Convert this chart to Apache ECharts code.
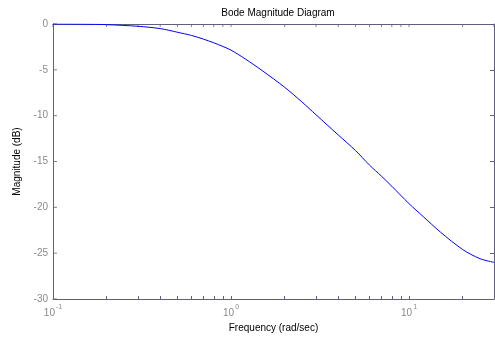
<!DOCTYPE html>
<html>
<head>
<meta charset="utf-8">
<script src="https://cdn.jsdelivr.net/npm/echarts@6/dist/echarts.min.js"></script>
<style>
html,body{margin:0;padding:0;background:#fff;}
#chart{width:495px;height:338px;}
</style>
</head>
<body>
<div id="chart"></div>
<script>
// Frequency (rad/sec) and magnitude (dB)
const frequency = [0.1, 0.15, 0.2, 0.3, 0.4, 0.5, 0.6, 0.7, 0.8, 0.9, 1.0, 1.2, 1.5, 2.0, 2.5, 3.0, 4.0, 5.0, 6.0, 7.0, 8.0, 10, 12, 15, 20, 25, 30];
const magnitude = [0, -0.02, -0.07, -0.25, -0.5, -0.9, -1.25, -1.65, -2.05, -2.45, -2.85, -3.8, -5.1, -6.9, -8.5, -9.9, -12.1, -13.8, -15.4, -16.6, -17.7, -19.6, -21.0, -22.7, -24.6, -25.6, -26.0];
const xMajorTicks = [0.1, 1, 10];
const xMinorTicks = [0.2, 0.3, 0.4, 0.5, 0.6, 0.7, 0.8, 0.9, 2, 3, 4, 5, 6, 7, 8, 9, 20, 30];
const yTicks = [0, -5, -10, -15, -20, -25, -30];
const titleText = 'Bode Magnitude Diagram';
const xName = 'Frequency (rad/sec)';
const yName = 'Magnitude (dB)';

const axisColor = '#60607e';
const labelColor = '#8a8a8a';
const font = 'Liberation Sans, Arial, sans-serif';
const allXTicks = xMajorTicks.concat(xMinorTicks);
const xMin = 0.1, xMax = 30, yMin = -30, yMax = 0;
const W = 495, H = 338;
const gridRect = {left: 53, right: 1, top: 24, bottom: 39};
const gridH = H - gridRect.top - gridRect.bottom;

const chart = echarts.init(document.getElementById('chart'), null, {renderer: 'canvas'});
const option = {
  backgroundColor: '#ffffff',
  animation: false,
  title: {
    text: titleText,
    left: 273, top: 3, textAlign: 'center',
    textStyle: {fontSize: 10, fontWeight: 'normal', color: '#000', fontFamily: font}
  },
  grid: [Object.assign({}, gridRect), Object.assign({}, gridRect), Object.assign({}, gridRect)],
  xAxis: [{
    gridIndex: 0,
    type: 'log', logBase: 10, min: xMin, max: xMax,
    position: 'bottom',
    name: xName, nameLocation: 'middle', nameGap: 24,
    nameTextStyle: {fontSize: 10, color: '#000', fontFamily: font},
    axisLine: {show: true, onZero: false, lineStyle: {color: axisColor, width: 1}},
    axisTick: {show: true, inside: true, length: 3, customValues: allXTicks, lineStyle: {color: axisColor}},
    splitLine: {show: false},
    axisLabel: {
      customValues: xMajorTicks, margin: 5,
      formatter: function (v) {
        const e = Math.round(Math.log10(v));
        return '{b|10}{s|' + e + '}';
      },
      rich: {
        b: {fontSize: 10, color: labelColor, fontFamily: font, verticalAlign: 'bottom', lineHeight: 14},
        s: {fontSize: 7, color: labelColor, fontFamily: font, verticalAlign: 'top', lineHeight: 14, padding: [0, 0, 0, 1]}
      }
    }
  }, {
    // top border line
    gridIndex: 1,
    type: 'log', logBase: 10, min: xMin, max: xMax,
    position: 'bottom', offset: -gridH,
    axisLine: {show: true, onZero: false, lineStyle: {color: axisColor, width: 1}},
    axisTick: {show: false},
    axisLabel: {show: false},
    splitLine: {show: false}
  }, {gridIndex: 2, type: 'log', logBase: 10, min: xMin, max: xMax, show: false}],
  yAxis: [{
    gridIndex: 0,
    type: 'value', min: yMin, max: yMax, interval: 5,
    position: 'left',
    name: yName, nameLocation: 'middle', nameGap: 25, nameRotate: 90,
    nameTextStyle: {fontSize: 10, color: '#000', fontFamily: font},
    axisLine: {show: true, onZero: false, lineStyle: {color: axisColor, width: 1}},
    axisTick: {show: false},
    splitLine: {show: false},
    axisLabel: {margin: 5, fontSize: 10, color: labelColor, fontFamily: font}
  }, {gridIndex: 1, type: 'value', min: yMin, max: yMax, show: false}, {
    gridIndex: 2,
    type: 'value', min: yMin, max: yMax, interval: 5,
    position: 'right',
    axisLine: {show: true, onZero: false, lineStyle: {color: axisColor, width: 1}},
    axisTick: {show: true, inside: true, length: 4, lineStyle: {color: axisColor}},
    axisLabel: {show: false},
    splitLine: {show: false}
  }],
  series: [{
    type: 'line',
    xAxisIndex: 0, yAxisIndex: 0,
    data: frequency.map((f, i) => [f, magnitude[i]]),
    showSymbol: false,
    smooth: 0.3,
    lineStyle: {color: '#0000ff', width: 1},
    z: 3
  }, {
    // inward ticks on the top edge
    type: 'scatter', xAxisIndex: 0, yAxisIndex: 0, clip: false, silent: true,
    data: allXTicks.map(v => [v, yMax]),
    symbol: 'rect', symbolSize: [1, 3], symbolOffset: [0, 1.5],
    itemStyle: {color: axisColor}, z: 2
  }, {
    // inward ticks on the left edge
    type: 'scatter', xAxisIndex: 0, yAxisIndex: 0, clip: false, silent: true,
    data: yTicks.map(v => [xMin, v]),
    symbol: 'rect', symbolSize: [4, 1], symbolOffset: [2, 0],
    itemStyle: {color: axisColor}, z: 2
  }]
};
chart.setOption(option);
</script>
</body>
</html>
